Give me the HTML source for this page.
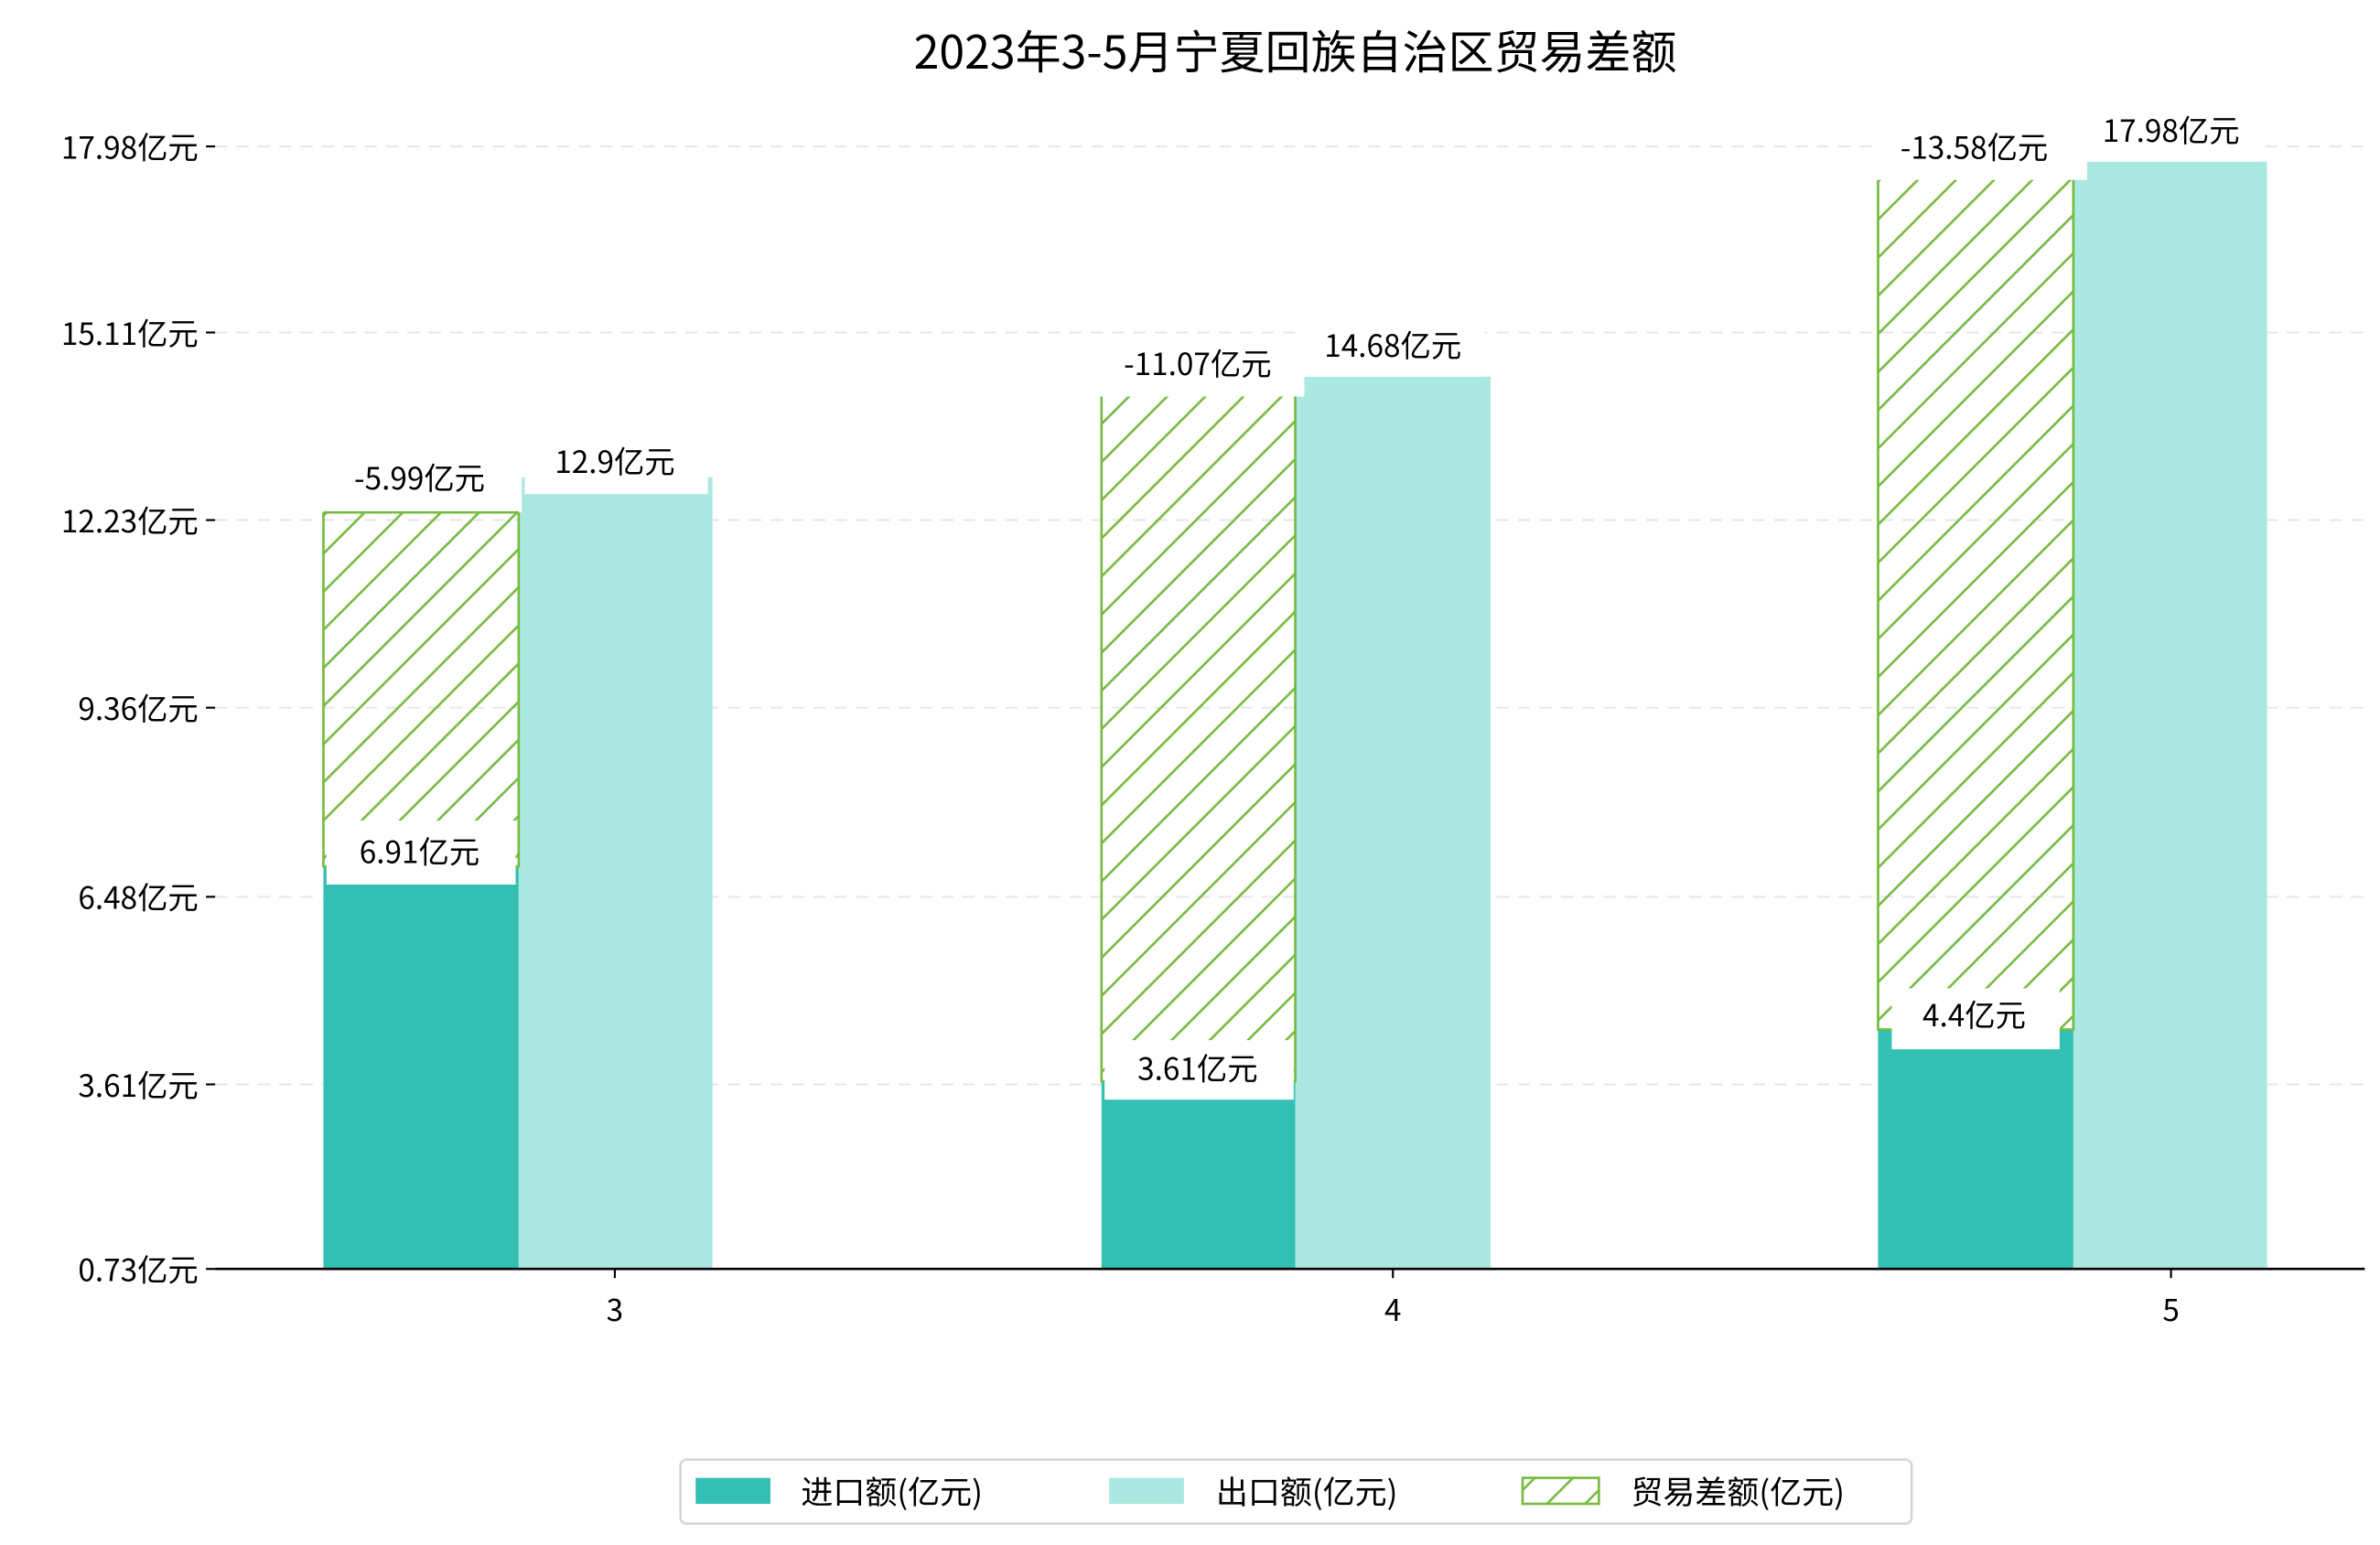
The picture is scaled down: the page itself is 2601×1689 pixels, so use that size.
<!DOCTYPE html>
<html><head><meta charset="utf-8"><style>
html,body{margin:0;padding:0;background:#fff;}
svg{display:block;}
text{font-family:"WenQuanYi Zen Hei","Noto Sans CJK SC",sans-serif;fill:#000;}
</style></head><body>
<svg width="2601" height="1689" viewBox="0 0 1560 1013" xmlns="http://www.w3.org/2000/svg">
<defs>
<pattern id="h" patternUnits="userSpaceOnUse" width="25" height="25">
<path d="M-5,5 L5,-5 M0,25 L25,0 M20,30 L30,20" stroke="#77bb41" stroke-width="1.6"/>
</pattern>
</defs>
<rect width="1560" height="1013" fill="#fff"/>
<text x="849" y="45" font-size="30" text-anchor="middle">2023年3-5月宁夏回族自治区贸易差额</text>
<g stroke="#e6e6e6" stroke-width="1.2" stroke-dasharray="8,6">
<line x1="141" y1="96" x2="1550" y2="96"/><line x1="141" y1="218" x2="1550" y2="218"/>
<line x1="141" y1="341" x2="1550" y2="341"/><line x1="141" y1="464" x2="1550" y2="464"/>
<line x1="141" y1="588" x2="1550" y2="588"/><line x1="141" y1="711" x2="1550" y2="711"/>
</g>
<g font-size="20" text-anchor="end">
<text x="130" y="104">17.98亿元</text><text x="130" y="226">15.11亿元</text>
<text x="130" y="349">12.23亿元</text><text x="130" y="472">9.36亿元</text>
<text x="130" y="596">6.48亿元</text><text x="130" y="719">3.61亿元</text>
<text x="130" y="840">0.73亿元</text>
</g>
<g stroke="#000" stroke-width="1.3">
<line x1="135" y1="96" x2="141" y2="96"/><line x1="135" y1="218" x2="141" y2="218"/>
<line x1="135" y1="341" x2="141" y2="341"/><line x1="135" y1="464" x2="141" y2="464"/>
<line x1="135" y1="588" x2="141" y2="588"/><line x1="135" y1="711" x2="141" y2="711"/>
<line x1="135" y1="832" x2="141" y2="832"/>
</g>
<!-- bars -->
<rect x="212" y="568" width="128" height="264" fill="#31c0b3"/>
<rect x="340" y="313" width="127" height="519" fill="#abe8e2"/>
<rect x="212" y="312" width="128" height="256" fill="url(#h)" stroke="#77bb41" stroke-width="1.6"/>
<rect x="722" y="709" width="127" height="123" fill="#31c0b3"/>
<rect x="849" y="247" width="128" height="585" fill="#abe8e2"/>
<rect x="722" y="247" width="127" height="462" fill="url(#h)" stroke="#77bb41" stroke-width="1.6"/>
<rect x="1231" y="675" width="128" height="157" fill="#31c0b3"/>
<rect x="1359" y="106" width="127" height="726" fill="#abe8e2"/>
<rect x="1231" y="106" width="128" height="569" fill="url(#h)" stroke="#77bb41" stroke-width="1.6"/>
<!-- label boxes -->
<g fill="#fff">
<rect x="210" y="294" width="132" height="42"/><rect x="344" y="288" width="120" height="36"/>
<rect x="214" y="538" width="124" height="42"/>
<rect x="717" y="220" width="138" height="40"/><rect x="853" y="210" width="120" height="37"/>
<rect x="724" y="682" width="124" height="39"/>
<rect x="1228" y="80" width="140" height="38"/><rect x="1362" y="70" width="120" height="36"/>
<rect x="1240" y="648" width="110" height="40"/>
</g>
<line x1="212" y1="336" x2="340" y2="336" stroke="#77bb41" stroke-width="1.6" stroke-dasharray="0"/>
<g font-size="20" text-anchor="middle">
<text x="275" y="321">-5.99亿元</text><text x="403" y="310">12.9亿元</text>
<text x="275" y="566">6.91亿元</text>
<text x="785" y="246">-11.07亿元</text><text x="913" y="234">14.68亿元</text>
<text x="785" y="708">3.61亿元</text>
<text x="1294" y="104">-13.58亿元</text><text x="1423" y="93">17.98亿元</text>
<text x="1294" y="673">4.4亿元</text>
</g>
<line x1="141" y1="832" x2="1550" y2="832" stroke="#000" stroke-width="1.6"/>
<g stroke="#000" stroke-width="1.3">
<line x1="403" y1="832" x2="403" y2="838"/><line x1="913" y1="832" x2="913" y2="838"/><line x1="1423" y1="832" x2="1423" y2="838"/>
</g>
<g font-size="20" text-anchor="middle">
<text x="403" y="866">3</text><text x="913" y="866">4</text><text x="1423" y="866">5</text>
</g>
<!-- legend -->
<rect x="446" y="957" width="807" height="42" rx="4" fill="#fff" stroke="#d6d6d6" stroke-width="1.6"/>
<rect x="456" y="969" width="49" height="17" fill="#31c0b3"/>
<rect x="727" y="969" width="49" height="17" fill="#abe8e2"/>
<rect x="998" y="969" width="50" height="17" fill="url(#h)" stroke="#77bb41" stroke-width="1.6"/>
<g font-size="21">
<text x="525" y="986">进口额(亿元)</text>
<text x="797" y="986">出口额(亿元)</text>
<text x="1069" y="986">贸易差额(亿元)</text>
</g>
</svg>
</body></html>
